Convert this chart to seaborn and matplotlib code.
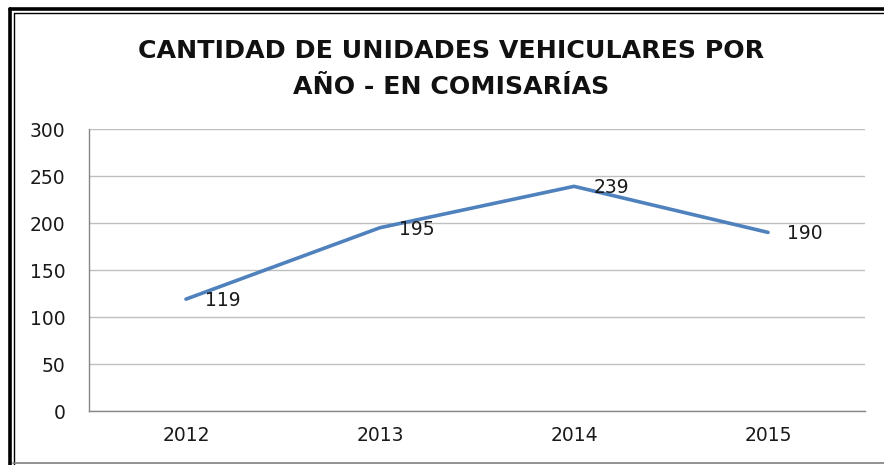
import matplotlib
matplotlib.use('Agg')
import matplotlib.pyplot as plt
import seaborn as sns
import pandas as pd
from matplotlib.lines import Line2D

years = ['2012', '2013', '2014', '2015']
unidades = [119, 195, 239, 190]
y_ticks = [0, 50, 100, 150, 200, 250, 300]

df = pd.DataFrame({'anio': years, 'unidades': unidades})

sns.set_style('white')
plt.rcParams['font.family'] = ['DejaVu Sans']

W, H = 884, 465
fig = plt.figure(figsize=(W / 100, H / 100), dpi=100)
ax = fig.add_axes([89 / W, 1 - 411 / H, (865 - 89) / W, (411 - 129) / H])

sns.lineplot(data=df, x='anio', y='unidades', ax=ax, color='#4F81BD',
             linewidth=2.6, sort=False)

for i, v in enumerate(unidades):
    ax.annotate(str(v), (i, v), xytext=(14, -1), textcoords='offset points',
                ha='left', va='center', fontsize=13.5, color='#1a1a1a')

ax.set_xlim(-0.5, 3.5)
ax.set_ylim(0, 300)
ax.set_yticks(y_ticks)
ax.grid(axis='y', color='#BFBFBF', linewidth=1)
ax.set_axisbelow(True)
for s in ['top', 'right']:
    ax.spines[s].set_visible(False)
for s in ['left', 'bottom']:
    ax.spines[s].set_color('#868686')
    ax.spines[s].set_linewidth(1)
ax.tick_params(axis='both', length=0, labelsize=13.5, colors='#1a1a1a')
ax.tick_params(axis='y', pad=17)
ax.tick_params(axis='x', pad=11)
ax.set_xlabel('')
ax.set_ylabel('')

fig.text(451 / W, 1 - 69 / H, 'CANTIDAD DE UNIDADES VEHICULARES POR\nAÑO - EN COMISARÍAS',
         ha='center', va='center', fontsize=18.2, fontweight='bold', color='#111111',
         linespacing=1.62)

# double frame on top and left, thin line at bottom
def fline(x0, y0, x1, y1, lw, c='black'):
    fig.add_artist(Line2D([x0 / W, x1 / W], [1 - y0 / H, 1 - y1 / H], lw=lw, color=c,
                          transform=fig.transFigure))

fline(9.5, 9.5, W, 9.5, 2.6)
fline(9.5, 9.5, 9.5, H, 2.6)
fline(13.5, 13.5, W, 13.5, 1.0)
fline(13.5, 13.5, 13.5, H, 1.0)
fline(13, 463, W, 463, 1.2, '#7f7f7f')

fig.savefig('out.png', dpi=100)
